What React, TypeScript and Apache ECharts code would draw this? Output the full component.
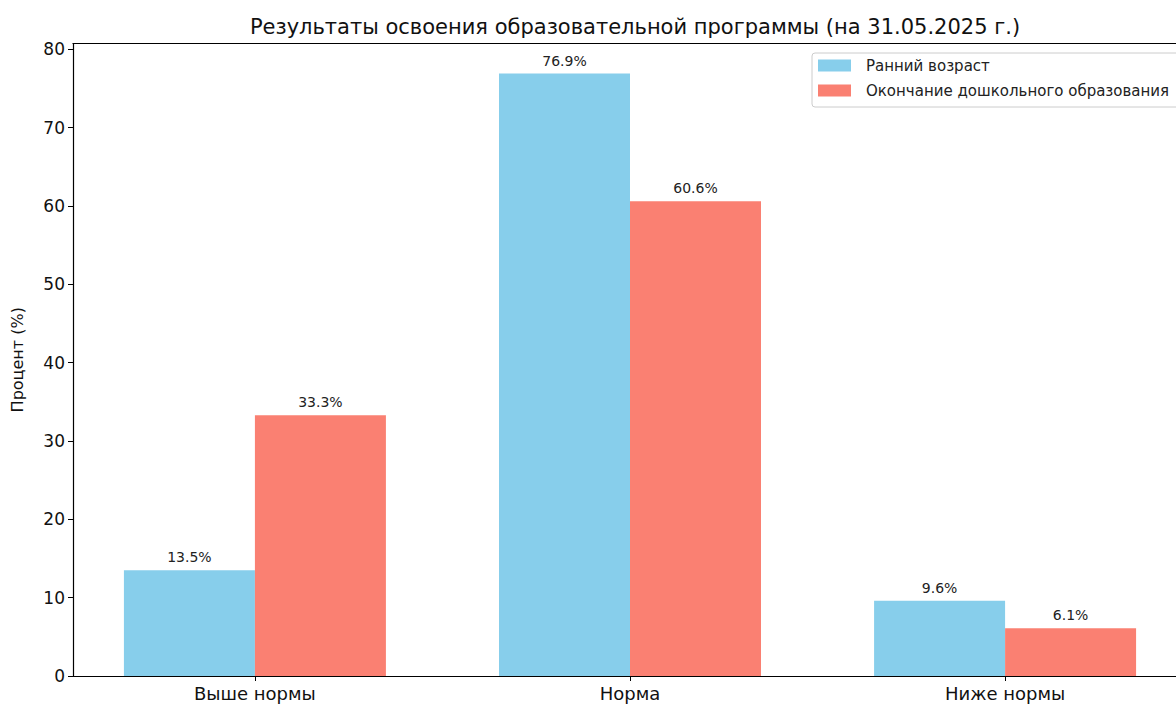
import React, { useEffect, useRef } from "react";
import * as echarts from "echarts";

const categories = ["Выше нормы", "Норма", "Ниже нормы"];
const earlyAge = [13.5, 76.9, 9.6];
const preschoolEnd = [33.3, 60.6, 6.1];
const seriesNames = ["Ранний возраст", "Окончание дошкольного образования"];
const yTicks = [0, 10, 20, 30, 40, 50, 60, 70, 80];

const FONT = "'DejaVu Sans', sans-serif";

export default function App() {
  const ref = useRef<HTMLDivElement>(null);
  useEffect(() => {
    if (!ref.current) return;
    const chart = echarts.init(ref.current, null, { renderer: "svg" });
    const catIdx = categories.map((_, i) => i);
    const label = {
      show: true,
      position: "top",
      distance: 6,
      color: "#222",
      fontSize: 14,
      fontFamily: FONT,
      formatter: (p: any) => `${p.value[1].toFixed(1)}%`,
    };
    const spine = { show: true, onZero: false, lineStyle: { color: "#000", width: 1.2 } };
    chart.setOption({
      animation: false,
      backgroundColor: "#fff",
      textStyle: { fontFamily: FONT },
      title: {
        text: "Результаты освоения образовательной программы (на 31.05.2025 г.)",
        left: 630,
        textAlign: "center",
        top: 11,
        textStyle: { fontSize: 21, fontWeight: "normal", color: "#111", fontFamily: FONT },
      },
      legend: {
        left: 812,
        top: 53,
        orient: "vertical",
        icon: "rect",
        itemWidth: 33,
        itemHeight: 12,
        itemGap: 10,
        padding: [5, 12, 9, 6],
        borderColor: "#ccc",
        borderWidth: 1,
        borderRadius: 3,
        backgroundColor: "#fff",
        textStyle: { fontSize: 15, lineHeight: 14, color: "#222", fontFamily: FONT, padding: [0, 0, 0, 10] },
        data: seriesNames,
      },
      grid: {
        left: 73,
        top: 43.5,
        bottom: 28,
        right: -11,
        outerBoundsMode: "none",
        show: false,
        containLabel: false,
      },
      xAxis: [
        {
          type: "value",
          min: -0.485,
          max: 2.485,
          splitLine: { show: false },
          axisLine: spine,
          axisTick: { show: true, customValues: catIdx, length: 5, lineStyle: { color: "#000" } },
          axisLabel: {
            customValues: catIdx,
            formatter: (v: number) => categories[Math.round(v)] ?? "",
            fontSize: 18,
            color: "#111",
            margin: 8,
            fontFamily: FONT,
          },
        },
        {
          type: "value",
          position: "top",
          min: -0.485,
          max: 2.485,
          splitLine: { show: false },
          axisLine: spine,
          axisTick: { show: false },
          axisLabel: { show: false },
        },
      ],
      yAxis: {
        type: "value",
        min: 0,
        max: 80.745,
        name: "Процент (%)",
        nameLocation: "middle",
        nameGap: 48,
        nameTextStyle: { fontSize: 16, color: "#111", fontFamily: FONT },
        splitLine: { show: false },
        axisLine: spine,
        axisTick: { show: true, customValues: yTicks, length: 5, lineStyle: { color: "#000" } },
        axisLabel: { customValues: yTicks, fontSize: 17, color: "#111", margin: 8, fontFamily: FONT },
      },
      series: [
        {
          name: seriesNames[0],
          type: "bar",
          barWidth: 131,
          barGap: "0%",
          itemStyle: { color: "#87CEEB" },
          label,
          data: earlyAge.map((v, i) => [i, v]),
        },
        {
          name: seriesNames[1],
          type: "bar",
          barWidth: 131,
          barGap: "0%",
          itemStyle: { color: "#FA8072" },
          label,
          data: preschoolEnd.map((v, i) => [i, v]),
        },
      ],
    });
    return () => chart.dispose();
  }, []);
  return <div ref={ref} style={{ position: "fixed", left: 0, top: 0, width: 1176, height: 704 }} />;
}
